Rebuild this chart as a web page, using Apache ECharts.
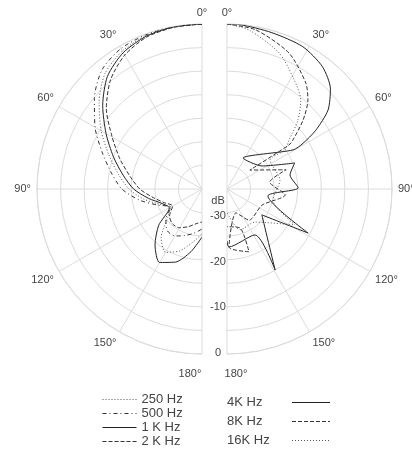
<!DOCTYPE html>
<html><head><meta charset="utf-8">
<script src="https://cdn.jsdelivr.net/npm/echarts@6/dist/echarts.min.js"></script>
<style>html,body{margin:0;padding:0;background:#fff}#c{width:412px;height:452px}</style>
</head><body><div id="c"></div>
<script>
// ---- data ([angle in degrees, level in dB]) ----
const angleTicks = [0, 30, 60, 90, 120, 150, 180];
const dbRange = [-35, 0];
const dbLabels = { '-35': 'dB', '-30': '-30', '-20': '-20', '-10': '-10', '0': '0' };
const leftNames = ['250 Hz', '500 Hz', '1 K Hz', '2 K Hz'];
const rightNames = ['4K Hz', '8K Hz', '16K Hz'];

const hz250 = [[0,0],[10,-0.1],[20,-0.4],[30,-1.2],[40,-3],[50,-6.5],[60,-10.3],[70,-14],[80,-17],[90,-19.5],[100,-22.5],[110,-25.5],[120,-27.3],[130,-25.5],[140,-21.5],[150,-19.5],[160,-21],[170,-23.5],[180,-25.5]];
const hz500 = [[0,0],[10,0],[20,-0.2],[30,-0.6],[40,-2],[50,-5.2],[60,-8.8],[70,-12.5],[80,-15.5],[90,-18],[100,-21.5],[110,-25],[120,-27.3],[130,-25],[140,-23.5],[150,-23.5],[160,-24.5],[170,-25.5],[180,-26.5]];
const hz1k = [[0,0],[10,-0.1],[20,-0.5],[30,-1.6],[40,-3.8],[50,-7.5],[60,-11.5],[70,-15],[80,-18],[90,-20.5],[100,-23.5],[110,-26],[120,-27],[130,-23],[140,-19.5],[150,-17],[160,-18.5],[170,-21.5],[180,-24.8]];
const hz2k = [[0,0],[10,-0.2],[20,-0.7],[30,-2.2],[40,-4.8],[50,-8.5],[60,-13],[70,-16.5],[80,-19.5],[90,-21.8],[100,-24.5],[110,-26.5],[120,-27.8],[130,-26],[140,-25.3],[150,-25.5],[160,-26.5],[170,-27.5],[180,-28]];

const hz4k = [[0,0],[4,0],[16,-0.5],[28,-0.8],[38,-2.1],[46,-4.5],[52,-7.8],[56.5,-12.4],[59,-16.2],[59.4,-18.7],[27.3,-27.6],[56.7,-26.1],[69,-19.6],[77.5,-21.3],[89,-19.9],[99.7,-26.2],[118.5,-15.4],[126.6,-25.8],[149.3,-15],[148.7,-23.6],[178,-22.7],[180,-24]];
const hz8k = [[0,0],[10.3,-0.7],[24.5,-3.3],[36.7,-7],[42.3,-9.5],[47.8,-13.2],[53.4,-17.6],[54.6,-18.9],[50.4,-28.7],[72,-21.8],[80.8,-25.8],[95.9,-22.6],[114.6,-26.8],[144.6,-26.9],[159.4,-29.6],[178,-22.7],[160.7,-20.9],[161.6,-26.3],[180,-27]];
const hz16k = [[0,0],[7.9,-0.95],[21,-4.1],[31.6,-7.8],[39.7,-10.5],[45.8,-14],[51.7,-18.2],[56,-20.2],[56,-24],[80.4,-23.6],[103.4,-25],[117.9,-18.7],[139.7,-25.8],[162.4,-25.9],[180,-30]];

// ---- chart ----
const gridColor = '#dcdcdc';
const textColor = '#444';
const font = 'Liberation Sans, Arial';
const toPolar = arr => arr.map(p => [p[1], p[0]]);

function angleAxis(idx, endAngle, clockwise, side) {
  return {
    polarIndex: idx, type: 'value', min: angleTicks[0], max: angleTicks[angleTicks.length - 1], interval: 30,
    startAngle: 90, endAngle: endAngle, clockwise: clockwise,
    axisLine: { show: true, lineStyle: { color: gridColor, width: 1 } },
    axisTick: { show: false },
    splitLine: { show: true, lineStyle: { color: gridColor, width: 1 } },
    axisLabel: { show: true, color: textColor, fontSize: 11, fontFamily: font, margin: 6,
      formatter: v => v === 180 ? '{' + side + '|' + v + '°}' : v + '°',
      rich: {
        l: { color: textColor, fontSize: 11, fontFamily: font, padding: [8, 24, 0, 0] },
        r: { color: textColor, fontSize: 11, fontFamily: font, padding: [8, 0, 0, 18] }
      } }
  };
}
function radiusAxis(idx) {
  return {
    polarIndex: idx, type: 'value', min: dbRange[0], max: dbRange[1], interval: 5,
    axisLine: { show: false }, axisTick: { show: false }, axisLabel: { show: false },
    splitLine: { show: true, lineStyle: { color: gridColor, width: 1 } }
  };
}
function line(name, data, idx, type, color) {
  return {
    name: name, type: 'line', coordinateSystem: 'polar', polarIndex: idx,
    data: toPolar(data), symbol: 'none', smooth: 0.25,
    lineStyle: { color: color, width: 1, type: type }, itemStyle: { color: color },
    animation: false
  };
}
const legendCommon = {
  orient: 'vertical', padding: 0, itemHeight: 8,
  itemStyle: { color: 'transparent', borderColor: 'transparent', opacity: 0 },
  lineStyle: { width: 1 },
  selectedMode: false
};

const option = {
  backgroundColor: '#fff',
  animation: false,
  polar: [
    { center: [202, 189], radius: 165 },
    { center: [227, 189], radius: 165 },
    { center: [214, 193], radius: 160 }
  ],
  angleAxis: [
    angleAxis(0, 270, false, 'l'),
    angleAxis(1, -90, true, 'r'),
    { polarIndex: 2, type: 'value', min: 0, max: 360, startAngle: -90, show: false }
  ],
  radiusAxis: [
    radiusAxis(0), radiusAxis(1),
    { polarIndex: 2, type: 'value', min: dbRange[0], max: dbRange[1], interval: 5,
      axisLine: { show: false }, axisTick: { show: false }, splitLine: { show: false },
      axisLabel: { show: true, color: textColor, fontSize: 11, fontFamily: font, margin: 4, align: 'center',
        formatter: v => v === dbRange[0] ? '{d|' + dbLabels[String(v)] + '}' : (dbLabels[String(v)] || ''),
        rich: { d: { color: textColor, fontSize: 11, fontFamily: font, padding: [16, 0, 0, 0] } } } }
  ],
  legend: [
    Object.assign({}, legendCommon, { data: leftNames, left: 102, top: 393, itemWidth: 34, itemGap: 1, align: 'left',
      textStyle: { color: textColor, fontSize: 13, lineHeight: 13, fontFamily: font, width: 50, align: 'right' } }),
    Object.assign({}, legendCommon, { data: rightNames, left: 227, top: 396, itemWidth: 38, itemGap: 6, align: 'right',
      formatter: name => '{t|' + name + '}',
      textStyle: { color: textColor, fontSize: 13, lineHeight: 13, fontFamily: font,
        rich: { t: { color: textColor, fontSize: 13, lineHeight: 13, fontFamily: font, width: 60, align: 'left' } } } })
  ],
  series: [
    line(leftNames[0], hz250, 0, [1, 2], '#555'),
    line(leftNames[1], hz500, 0, [4, 3, 1, 3], '#333'),
    line(leftNames[2], hz1k, 0, 'solid', '#222'),
    line(leftNames[3], hz2k, 0, [4, 2], '#333'),
    line(rightNames[0], hz4k, 1, 'solid', '#222'),
    line(rightNames[1], hz8k, 1, [4, 2], '#333'),
    line(rightNames[2], hz16k, 1, [1, 2], '#555')
  ]
};
const chart = echarts.init(document.getElementById('c'), null, { renderer: 'canvas' });
chart.setOption(option);
</script>
</body></html>
